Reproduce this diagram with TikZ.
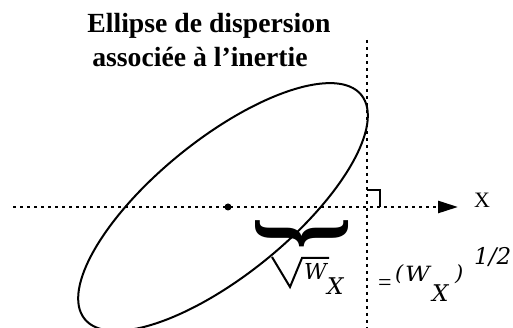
\documentclass[tikz,border=0pt]{standalone}
\usepackage{fontspec}
\setmainfont{Liberation Serif}
\newfontfamily\dvserif{DejaVu Serif}
\usepackage{graphicx}
\usepackage{tikz}
\usetikzlibrary{arrows.meta}

\begin{document}
\begin{tikzpicture}[
  x=1pt, y=1pt,
  dotline/.style={line width=2.6pt, dash pattern=on 3.4pt off 3.6pt},
  titletext/.style={font=\fontsize{27.7}{32}\selectfont\bfseries, inner sep=0pt, anchor=base},
  symtext/.style={inner sep=0pt, anchor=base west},
  >={Triangle[length=20pt, width=12pt]}
]
\useasboundingbox (0,0) rectangle (513,328);
% title
\node[titletext] (title1) at (209,295) {Ellipse de dispersion};
\node[titletext] (title2) at (200,261) {associée à l’inertie};
% axes
\coordinate (axL) at (13,121);
\coordinate (axR) at (458,121);
\coordinate (vTop) at (367,288);
\coordinate (vBot) at (367,0);
\draw[dotline, ->] (axL) -- (axR);
\draw[dotline] (vTop) -- (vBot);
\node[symtext, font=\fontsize{22}{24}\selectfont] (lblX) at (474,120) {X};
% right angle
\draw[line width=2pt] (367,138) -- (380,138) -- (380,121);
% ellipse and centre
\coordinate (ctr) at (223,121);
\draw[line width=2pt] (ctr) ellipse[x radius=178, y radius=68, rotate=39];
\fill (228,121) circle (3.5pt);
% brace
\node[inner sep=0pt] (brace) at (302,95)
  {\resizebox{93pt}{32pt}{\rotatebox{90}{\bfseries\{}}};
% square root of W_X
\draw[line width=2pt, line join=miter] (272,71) -- (290,41) -- (302,70) -- (329,70);
\node[symtext, font=\fontsize{22}{24}\dvserif\itshape] (rootW) at (304,48) {W};
\node[symtext, font=\fontsize{23}{25}\dvserif\itshape] (rootX) at (327,33) {X};
% power form
\node[symtext, font=\fontsize{24}{26}\selectfont] (eqsign) at (378,37) {=};
\node[symtext, font=\fontsize{21}{23}\dvserif\itshape] (lparen) at (395,47) {(};
\node[symtext, font=\fontsize{21}{23}\dvserif\itshape] (pW) at (405,46) {\scalebox{1.15}[1]{W}};
\node[symtext, font=\fontsize{23}{25}\dvserif\itshape] (pX) at (432,26) {X};
\node[symtext, font=\fontsize{21}{23}\dvserif\itshape] (rparen) at (455,47) {)};
\node[symtext, font=\fontsize{23}{25}\dvserif\itshape] (half) at (474,63) {1/2};
\end{tikzpicture}
\end{document}
